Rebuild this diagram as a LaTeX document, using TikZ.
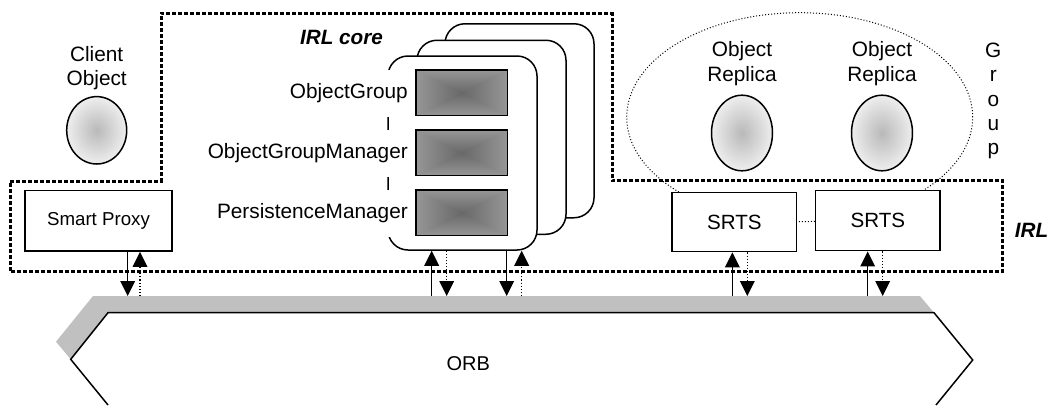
\documentclass[tikz,border=0pt]{standalone}
\usepackage{fontspec}
\setmainfont{Liberation Sans}
\usetikzlibrary{arrows.meta,shapes.geometric}
\definecolor{bandgray}{RGB}{192,192,192}
\definecolor{ovalin}{RGB}{185,185,185}
\definecolor{ovalout}{RGB}{238,238,238}
\pgfdeclarefunctionalshading{boxshade}{\pgfpoint{-50bp}{-50bp}}{\pgfpoint{50bp}{50bp}}{}{abs exch abs 2 copy lt {exch} if pop 25 div 0.18 mul 0.41 add dup dup}
\tikzset{
  irlline/.style={line width=3pt, dash pattern=on 4pt off 2pt},
  plainbox/.style={draw, line width=1.5pt, fill=white, inner sep=0pt},
  card/.style={draw, line width=1.5pt, fill=white, rounded corners=20pt, minimum width=149pt, minimum height=194pt, inner sep=0pt},
  comp/.style={draw, line width=1.5pt, shading=boxshade, minimum width=91.3pt, minimum height=45.7pt, inner sep=0pt},
  oval/.style={ellipse, draw, line width=1.5pt, shading=radial, inner color=ovalin, outer color=ovalout, inner sep=0pt},
  lbl/.style={font=\fontsize{20.8}{24.5}\selectfont, align=center, inner sep=0pt, anchor=north},
  cardlbl/.style={fill=white, font=\fontsize{20.8}{24}\selectfont, anchor=east, minimum height=47pt, inner xsep=2pt, inner ysep=0pt},
  boldlbl/.style={font=\bfseries\itshape\fontsize{20.7}{24}\selectfont},
  tip/.tip={Triangle[width=15pt,length=15pt,line width=0pt]},
  solidarrow/.style={line width=1.5pt, -tip},
  dotarrow/.style={line width=1.1pt, dotted, -tip},
}
\begin{document}
\begin{tikzpicture}[x=1pt,y=-1pt]
\useasboundingbox (0,0) rectangle (1050,405);
% ORB
\fill[bandgray] (93,296) -- (920,296) -- (934,312.7) -- (108,312.7) -- (70.7,359.3) -- (56,341.7) -- cycle;
\draw[line width=1.5pt, line join=miter] (108,405) -- (70.7,359.3) -- (108,312.7) -- (934,312.7) -- (972.7,360) -- (936,405);
\node[font=\fontsize{20}{24}\selectfont] (orb) at (468.3,364) {ORB};
\coordinate (orbtop) at (0,296);
% IRL outline
\draw[irlline] (10,181) -- (161,181) -- (161,13.3) -- (612,13.3) -- (612,180.5) -- (1002.7,180.5) -- (1002.7,271.5) -- (10,271.5) -- cycle;
% group ellipse
\draw[dotted, line width=1pt] (799.7,117.2) ellipse (173pt and 104.5pt);
% cards
\node[card] (card3) at (519.5,120.75) {};
\node[card] (card2) at (491.5,137.25) {};
\node[card] (card1) at (462.5,153) {};
\node[comp] (og) at (461.7,92.85) {};
\node[comp] (ogm) at (461.7,152.85) {};
\node[comp] (pm) at (461.7,212.85) {};
\node[cardlbl] (ogl) at (410,93.5) {ObjectGroup};
\node[cardlbl] (ogml) at (410,153.5) {ObjectGroupManager};
\node[cardlbl] (pml) at (410,213.3) {PersistenceManager};
\node[boldlbl] (irlcore) at (341.5,37.2) {IRL core};
\node[boldlbl] (irl) at (1031.5,230) {IRL};
% texts
\node[lbl] (clienttxt) at (96.7,46) {Client\\Object};
\node[lbl, font=\fontsize{20.8}{24.3}\selectfont] (rep1txt) at (742,41.5) {Object\\Replica};
\node[lbl, font=\fontsize{20.8}{24.3}\selectfont] (rep2txt) at (882,41.5) {Object\\Replica};
\node[lbl, font=\fontsize{20.8}{24.4}\selectfont] (grouptxt) at (993.3,42.5) {G\\r\\o\\u\\p};
% ovals
\node[oval, minimum width=60pt, minimum height=67.4pt] (client) at (96.7,130.3) {};
\node[oval, minimum width=61pt, minimum height=75.6pt] (rep1) at (742,133) {};
\node[oval, minimum width=61pt, minimum height=75.6pt] (rep2) at (882,133) {};
% boxes
\node[plainbox, minimum width=147pt, minimum height=60.3pt,
  label={[anchor=base, font=\fontsize{18.7}{22}\selectfont]center:Smart Proxy}] (proxy) at (98.5,220.85) {};
\node[plainbox, minimum width=124.7pt, minimum height=59pt,
  label={[anchor=base, font=\fontsize{20.6}{24}\selectfont]center:SRTS}] (srts1) at (734.35,222.2) {};
\node[plainbox, minimum width=124.3pt, minimum height=60pt,
  label={[anchor=base, font=\fontsize{20.6}{24}\selectfont]center:SRTS}] (srts2) at (877.85,220.7) {};
% arrows
\draw[solidarrow] ([xshift=29.2pt]proxy.south) -- ([xshift=29.2pt]proxy.south |- orbtop);
\draw[dotarrow] ([xshift=41.5pt]proxy.south |- orbtop) -- ([xshift=41.5pt]proxy.south);
\draw[solidarrow] ([xshift=-30.8pt]card1.south |- orbtop) -- ([xshift=-30.8pt]card1.south);
\draw[dotarrow] ([xshift=-15.8pt]card1.south) -- ([xshift=-15.8pt]card1.south |- orbtop);
\draw[solidarrow] ([xshift=44.2pt]card1.south) -- ([xshift=44.2pt]card1.south |- orbtop);
\draw[dotarrow] ([xshift=59.2pt]card1.south |- orbtop) -- ([xshift=59.2pt]card1.south);
\draw[solidarrow] ([xshift=-2pt]srts1.south |- orbtop) -- ([xshift=-2pt]srts1.south);
\draw[dotarrow] ([xshift=13pt]srts1.south) -- ([xshift=13pt]srts1.south |- orbtop);
\draw[solidarrow] ([xshift=-10.2pt]srts2.south |- orbtop) -- ([xshift=-10.2pt]srts2.south);
\draw[dotarrow] ([xshift=4.8pt]srts2.south) -- ([xshift=4.8pt]srts2.south |- orbtop);
\end{tikzpicture}
\end{document}
